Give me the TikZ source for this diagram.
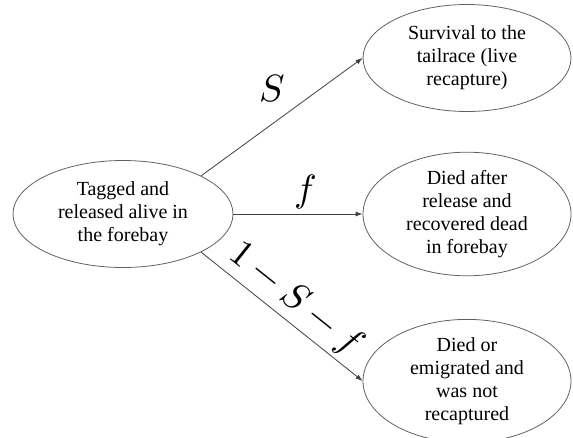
\documentclass[tikz,border=0pt]{standalone}
\usepackage{fontspec}
\usepackage{unicode-math}
\setmainfont{Liberation Serif}
\setmathfont{Latin Modern Math}
\usetikzlibrary{shapes.geometric,arrows.meta,calc}
\begin{document}
\begin{tikzpicture}[x=1pt,y=-1pt,
  stage/.style={ellipse, draw=black!62, line width=0.8pt, inner sep=0pt,
    align=center, font=\fontsize{20}{23}\selectfont},
  conn/.style={draw=black!75, line width=0.8pt, -{Latex[length=7pt,width=5pt]}},
  prob/.style={font=\fontsize{38}{40}\selectfont, inner sep=0pt}]
\useasboundingbox (0,0) rectangle (573,437);
\node[stage, minimum width=220pt, minimum height=107pt] (a) at (123,214)
  {Tagged and\\released alive in\\the forebay};
\node[stage, minimum width=208pt, minimum height=107pt] (b) at (467,58)
  {Survival to the\\tailrace (live\\recapture)};
\node[stage, minimum width=208pt, minimum height=109pt] (c) at (467,214)
  {Died after\\release and\\recovered dead\\in forebay};
\node[stage, minimum width=208pt, minimum height=105pt] (d) at (467,381)
  {Died or\\emigrated and\\was not\\recaptured};
\draw[conn] (a.north east) -- (b.west);
\draw[conn] (a.east) -- (c.west);
\draw[conn] (a.south east) -- (d.west)
  node[prob, midway, sloped, above=4pt] (l3) {$1-S-f$};
\node[prob] (l1) at (272,89) {$S$};
\node[prob] (l2) at (306,192) {$f$};
\end{tikzpicture}
\end{document}
